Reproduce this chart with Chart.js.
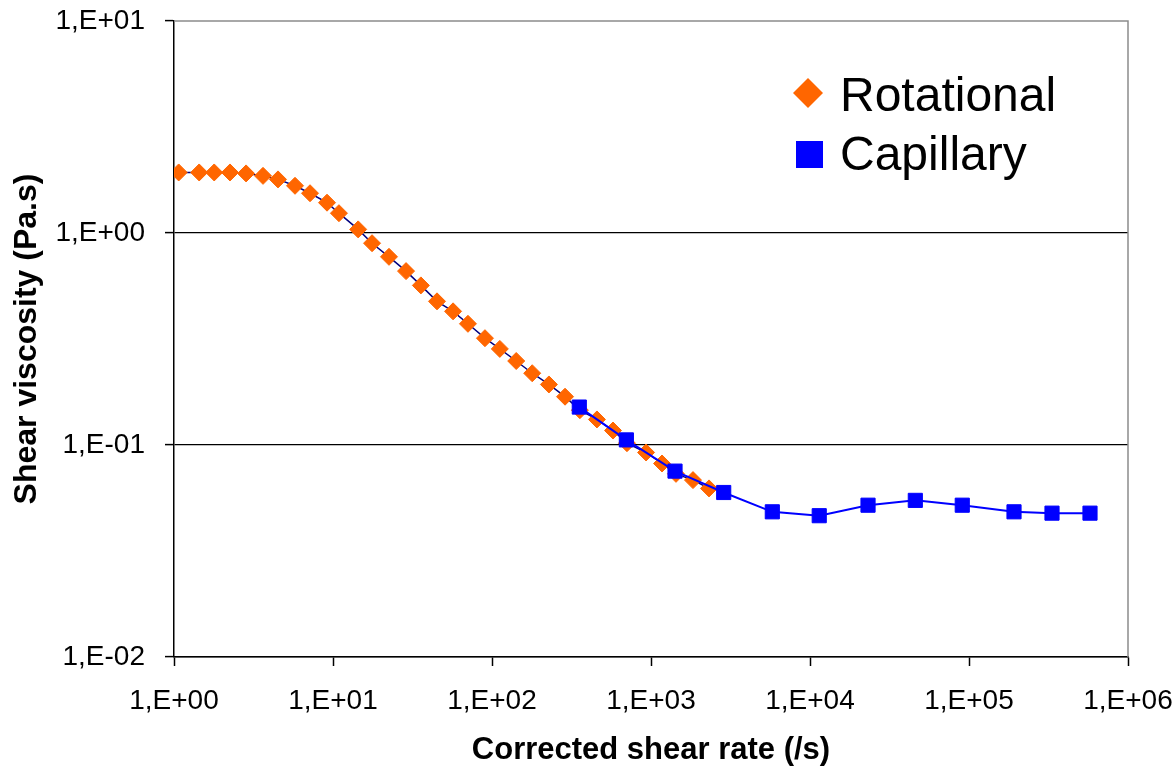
<!DOCTYPE html>
<html>
<head>
<meta charset="utf-8">
<script src="https://cdn.jsdelivr.net/npm/chart.js@4.4.1/dist/chart.umd.min.js"></script>
<style>
  body { margin: 0; background: #fff; }
  canvas { display: block; }
</style>
</head>
<body>
<canvas id="myChart" width="1175" height="766"></canvas>
<script>
// data
let rotationalRate = [1.07, 1.44, 1.79, 2.25, 2.84, 3.63, 4.51, 5.77, 7.17, 9.17, 10.9, 14.4, 17.6, 22.5, 28.8, 35.7, 45.1, 56.9, 70.6, 90.3, 112, 142, 179, 228, 288, 357, 457, 577, 706, 931, 1173, 1436, 1837, 2317];
let rotationalViscosity = [1.93, 1.93, 1.93, 1.93, 1.91, 1.86, 1.79, 1.67, 1.54, 1.39, 1.24, 1.04, 0.895, 0.772, 0.661, 0.566, 0.476, 0.427, 0.373, 0.319, 0.284, 0.249, 0.218, 0.193, 0.169, 0.146, 0.132, 0.117, 0.102, 0.0922, 0.0818, 0.0731, 0.0683, 0.0624];
let capillaryRate = [354, 700, 1416, 2866, 5794, 11430, 23170, 45960, 90700, 191900, 332700, 576800];
let capillaryViscosity = [0.151, 0.1057, 0.0753, 0.0597, 0.0484, 0.0464, 0.0520, 0.0548, 0.0520, 0.0484, 0.0477, 0.0477];

let xTickValues = [1, 10, 100, 1000, 10000, 100000, 1000000];
let xTickLabels = ['1,E+00', '1,E+01', '1,E+02', '1,E+03', '1,E+04', '1,E+05', '1,E+06'];
let yTickValues = [0.01, 0.1, 1, 10];
let yTickLabels = ['1,E-02', '1,E-01', '1,E+00', '1,E+01'];

let seriesNames = ['Rotational', 'Capillary'];

function toPoints(xs, ys) {
  let pts = [];
  for (let i = 0; i < xs.length; i++) {
    pts.push({ x: xs[i], y: ys[i] });
  }
  return pts;
}

// gray frame on the top and right of the plot
const frame = {
  id: 'frame',
  beforeDatasetsDraw(chart) {
    let a = chart.chartArea;
    let ctx = chart.ctx;
    ctx.save();
    ctx.strokeStyle = '#8c8c8c';
    ctx.lineWidth = 1.5;
    ctx.beginPath();
    ctx.moveTo(a.left, a.top);
    ctx.lineTo(a.right, a.top);
    ctx.lineTo(a.right, a.bottom);
    ctx.stroke();
    ctx.restore();
  }
};

// legend inside the plot, top right
const legendBox = {
  id: 'legendBox',
  afterDraw(chart) {
    let ctx = chart.ctx;
    ctx.save();
    // diamond
    ctx.fillStyle = '#FF6600';
    ctx.beginPath();
    ctx.moveTo(808, 78);
    ctx.lineTo(823, 93);
    ctx.lineTo(808, 108);
    ctx.lineTo(793, 93);
    ctx.closePath();
    ctx.fill();
    // square
    ctx.fillStyle = '#0000FF';
    ctx.fillRect(796, 141, 27, 27);

    ctx.fillStyle = '#000';
    ctx.font = '48px "Liberation Sans", Arial, sans-serif';
    ctx.textBaseline = 'alphabetic';
    ctx.fillText(seriesNames[0], 840, 111);
    ctx.fillText(seriesNames[1], 840, 170);
    ctx.restore();
  }
};

const ctx = document.getElementById('myChart').getContext('2d');

const myChart = new Chart(ctx, {
  type: 'scatter',
  data: {
    datasets: [
      {
        label: seriesNames[0],
        data: toPoints(rotationalRate, rotationalViscosity),
        showLine: true,
        borderColor: '#000080',
        borderWidth: 1.5,
        pointStyle: 'rectRot',
        pointRadius: 8.5,
        pointBackgroundColor: '#FF6600',
        pointBorderColor: '#FF6600',
        pointBorderWidth: 1,
        order: 1
      },
      {
        label: seriesNames[1],
        data: toPoints(capillaryRate, capillaryViscosity),
        showLine: true,
        borderColor: '#0000FF',
        borderWidth: 2,
        pointStyle: 'rect',
        pointRadius: 10,
        pointBackgroundColor: '#0000FF',
        pointBorderColor: '#0000FF',
        pointBorderWidth: 1,
        order: 0
      }
    ]
  },
  options: {
    responsive: false,
    animation: false,
    layout: { padding: { left: 0, right: 47, top: 21, bottom: 0 } },
    plugins: {
      legend: { display: false },
      tooltip: { enabled: false }
    },
    scales: {
      x: {
        type: 'logarithmic',
        min: 1,
        max: 1000000,
        afterBuildTicks: (scale) => {
          scale.ticks = xTickValues.map(v => ({ value: v }));
        },
        afterFit: (scale) => {
          scale.height = 109;
          scale.paddingLeft = 0;
          scale.paddingRight = 0;
        },
        border: { color: '#000', width: 1.5 },
        grid: {
          drawOnChartArea: false,
          drawTicks: true,
          tickLength: 9,
          tickColor: '#000',
          tickWidth: 1.5
        },
        ticks: {
          autoSkip: false,
          maxRotation: 0,
          padding: 18,
          color: '#000',
          font: { family: '"Liberation Sans", Arial, sans-serif', size: 28 },
          callback: (value, index) => xTickLabels[index]
        },
        title: {
          display: true,
          text: 'Corrected shear rate (/s)',
          color: '#000',
          font: { family: '"Liberation Sans", Arial, sans-serif', size: 31, weight: 'bold', lineHeight: 1 },
          padding: { top: 0, bottom: 0 }
        }
      },
      y: {
        type: 'logarithmic',
        min: 0.01,
        max: 10,
        afterBuildTicks: (scale) => {
          scale.ticks = yTickValues.map(v => ({ value: v }));
        },
        afterFit: (scale) => {
          scale.width = 174;
          scale.paddingTop = 0;
          scale.paddingBottom = 0;
        },
        border: { color: '#000', width: 1.5 },
        grid: {
          color: (c) => (c.tick && c.tick.value === 10) ? 'rgba(0,0,0,0)' : '#000',
          lineWidth: 1.2,
          drawTicks: true,
          tickLength: 9,
          tickColor: '#000',
          tickWidth: 1.5
        },
        ticks: {
          autoSkip: false,
          padding: 20,
          color: '#000',
          font: { family: '"Liberation Sans", Arial, sans-serif', size: 28 },
          callback: (value, index) => yTickLabels[index]
        },
        title: {
          display: true,
          text: 'Shear viscosity (Pa.s)',
          color: '#000',
          font: { family: '"Liberation Sans", Arial, sans-serif', size: 32, weight: 'bold' },
          padding: { top: 8, bottom: 0 }
        }
      }
    }
  },
  plugins: [frame, legendBox]
});
</script>
</body>
</html>
